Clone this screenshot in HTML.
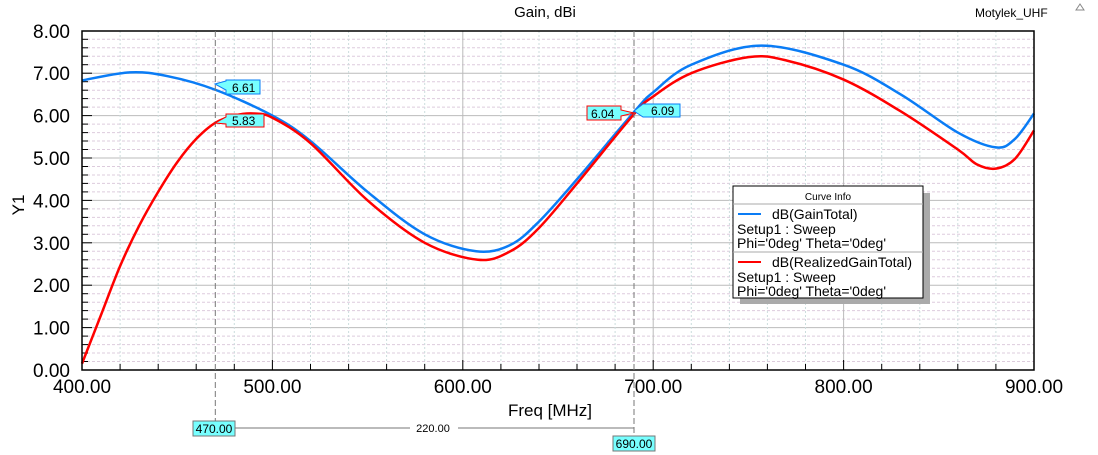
<!DOCTYPE html>
<html><head><meta charset="utf-8"><style>
body{margin:0;background:#fff;}
svg{display:block;font-family:"Liberation Sans",Arial,sans-serif;}
</style></head><body>
<svg id="s" width="1098" height="455" xmlns="http://www.w3.org/2000/svg">
<rect width="1098" height="455" fill="#fff"/>
<g id="grid"></g>
<text x="545" y="17" font-size="15" text-anchor="middle">Gain, dBi</text>
<text x="975" y="17" font-size="12">Motylek_UHF</text>
<polygon points="1076,10 1080,4 1084,10" fill="none" stroke="#888"/>
<text transform="translate(24,205) rotate(-90)" font-size="17" text-anchor="middle">Y1</text>
<text x="550" y="416" font-size="17" text-anchor="middle">Freq [MHz]</text>
<g id="ticks" font-size="19"></g>
<path id="blue" fill="none" stroke="#0a7cf5" stroke-width="2.5"/>
<path id="red" fill="none" stroke="#f00" stroke-width="2.5"/>
<rect x="82" y="31" width="952" height="339" fill="none" stroke="#000" stroke-width="1.5"/>
<line x1="215.3" y1="31" x2="215.3" y2="422" stroke="#777" stroke-dasharray="6,3"/>
<line x1="634" y1="31" x2="634" y2="436" stroke="#777" stroke-dasharray="6,3"/>
<line x1="235" y1="428" x2="410" y2="428" stroke="#777"/>
<line x1="458" y1="428" x2="634" y2="428" stroke="#777"/>
<text x="433" y="432" font-size="11" text-anchor="middle">220.00</text>
<rect x="193" y="421" width="42" height="15" fill="#7ff" stroke="#777"/>
<text x="214" y="433" font-size="12" text-anchor="middle">470.00</text>
<rect x="613" y="436" width="42" height="15" fill="#7ff" stroke="#777"/>
<text x="634" y="448" font-size="12" text-anchor="middle">690.00</text>
<polygon points="215,84 226,81 226,80 260,80 260,94 226,94 226,90" fill="#7ff" stroke="#0a7cf5"/>
<text x="232" y="92" font-size="12">6.61</text>
<polygon points="215,123 226,117 226,114 264,114 264,127 226,127 226,124" fill="#7ff" stroke="#f00"/>
<text x="232" y="125" font-size="12">5.83</text>
<polygon points="587,106 621,106 621,110 634,113 621,116 621,120 587,120" fill="#7ff" stroke="#f00"/>
<text x="591" y="118" font-size="12">6.04</text>
<polygon points="634,111 643,104 680,104 680,117 643,117" fill="#7ff" stroke="#0a7cf5"/>
<text x="651" y="115" font-size="12">6.09</text>
<rect x="740" y="193" width="190" height="111" fill="#aaa"/>
<rect x="733" y="186" width="190" height="112" fill="#fff" stroke="#000"/>
<text x="828" y="200" font-size="10" text-anchor="middle">Curve Info</text>
<line x1="733" y1="204" x2="923" y2="204" stroke="#aaa"/>
<line x1="738" y1="214" x2="761" y2="214" stroke="#0a7cf5" stroke-width="2"/>
<text x="772" y="219" font-size="14">dB(GainTotal)</text>
<text x="737" y="234" font-size="14">Setup1 : Sweep</text>
<text x="737" y="248" font-size="14">Phi='0deg' Theta='0deg'</text>
<line x1="733" y1="252" x2="923" y2="252" stroke="#aaa"/>
<line x1="738" y1="262" x2="761" y2="262" stroke="#f00" stroke-width="2"/>
<text x="772" y="267" font-size="14">dB(RealizedGainTotal)</text>
<text x="737" y="282" font-size="14">Setup1 : Sweep</text>
<text x="737" y="296" font-size="14">Phi='0deg' Theta='0deg'</text>
</svg>
<script>
const X=f=>82+(f-400)*1.904, Y=v=>370-v*42.4;
let g='',t='';
for(let v=0.2;v<8;v+=0.2){const y=Y(v).toFixed(1);const maj=Math.abs(v-Math.round(v))<1e-6;
g+=`<line x1="82" y1="${y}" x2="1034" y2="${y}" stroke="${maj?'#bbb':'#dcd'}" stroke-dasharray="${maj?'':'3,2'}"/>`;
t+=`<line x1="82" y1="${y}" x2="${maj?92:88}" y2="${y}" stroke="#000"/>`;}
for(let f=420;f<900;f+=20){const x=X(f).toFixed(1);const maj=f%100==0;
g+=`<line x1="${x}" y1="31" x2="${x}" y2="370" stroke="${maj?'#bbb':'#cdd'}" stroke-dasharray="${maj?'':'2,2'}"/>`;
t+=`<line x1="${x}" y1="370" x2="${x}" y2="${maj?360:364}" stroke="#000"/>`;}
for(let v=0;v<=8;v++)t+=`<text x="70" y="${Y(v)+7}" text-anchor="end">${v.toFixed(2)}</text>`;
for(let f=400;f<=900;f+=100)t+=`<text x="${X(f)}" y="393" text-anchor="middle">${f.toFixed(2)}</text>`;
document.getElementById('grid').innerHTML=g;document.getElementById('ticks').innerHTML=t;
function path(pts){const p=pts.map(a=>[X(a[0]),Y(a[1])]);let d=`M${p[0][0]},${p[0][1]}`;
for(let i=0;i<p.length-1;i++){const p0=p[i-1]||p[i],p1=p[i],p2=p[i+1],p3=p[i+2]||p2;
d+=`C${p1[0]+(p2[0]-p0[0])/6},${p1[1]+(p2[1]-p0[1])/6} ${p2[0]-(p3[0]-p1[0])/6},${p2[1]-(p3[1]-p1[1])/6} ${p2[0]},${p2[1]}`;}return d;}
const B=[[400,6.83],[425,7.02],[445,6.93],[470,6.61],[500,6.0],[520,5.4],[550,4.2],[580,3.2],[607,2.8],[625,2.95],[640,3.5],[660,4.5],[690,6.09],[700,6.55],[720,7.2],[757,7.65],[800,7.2],[830,6.5],[860,5.6],[880,5.25],[890,5.45],[900,6.05]];
const R=[[400,0.15],[410,1.3],[420,2.45],[430,3.4],[440,4.2],[450,4.9],[460,5.45],[470,5.83],[480,6.0],[490,6.05],[500,5.95],[520,5.35],[550,4.0],[580,3.0],[608,2.6],[625,2.8],[640,3.35],[660,4.4],[690,6.04],[700,6.45],[720,7.0],[750,7.38],[770,7.3],[800,6.85],[830,6.1],[860,5.2],[870,4.85],[880,4.75],[890,4.98],[900,5.65]];
document.getElementById('blue').setAttribute('d',path(B));
document.getElementById('red').setAttribute('d',path(R));
</script>
</body></html>
